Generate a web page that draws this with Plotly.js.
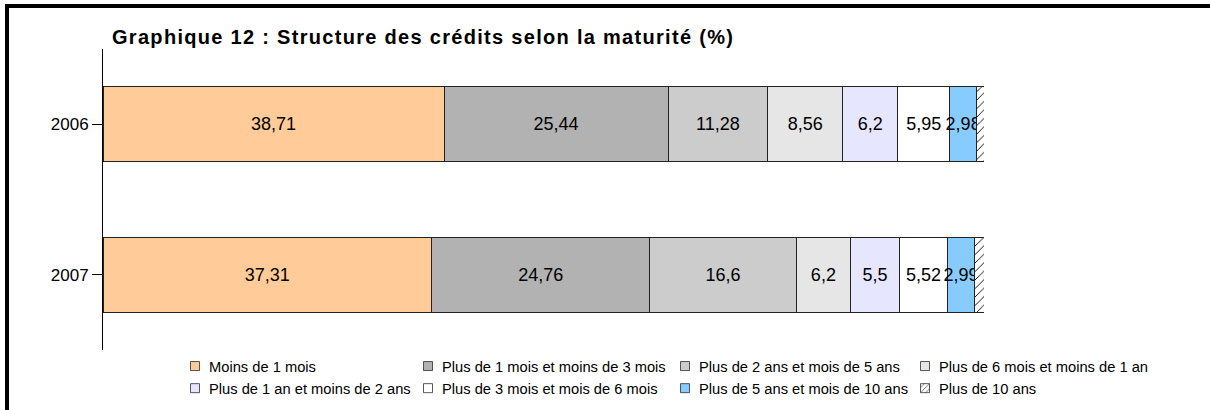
<!DOCTYPE html>
<html>
<head>
<meta charset="utf-8">
<script src="https://cdn.plot.ly/plotly-3.0.1.min.js"></script>
<style>
  html, body { margin: 0; padding: 0; background: #fff; }
  #wrap { position: relative; width: 1210px; height: 410px; }
  #chart { width: 1210px; height: 410px; }
  #bt { position: absolute; left: 5px; top: 4px; width: 1205px; height: 4px; background: #000; }
  #bl { position: absolute; left: 5px; top: 4px; width: 4px; height: 406px; background: #000; }
  .gtitle { letter-spacing: 1.3px; }
  g.legendpoints { transform: translate(11px, 0px) scale(0.75); }
</style>
</head>
<body>
<div id="wrap">
  <div id="chart"></div>
  <div id="bt"></div>
  <div id="bl"></div>
</div>
<script>
// Categories (years)
const years = ["2006", "2007"];

// Series (in stacking order)
const seriesNames = [
  "Moins de 1 mois",
  "Plus de 1 mois et moins de 3 mois",
  "Plus de 2 ans et mois de 5 ans",
  "Plus de 6 mois et moins de 1 an",
  "Plus de 1 an et moins de 2 ans",
  "Plus de 3 mois et mois de 6 mois",
  "Plus de 5 ans et mois de 10 ans",
  "Plus de 10 ans"
];

const moins1mois      = [38.71, 37.31];
const plus1a3mois     = [25.44, 24.76];
const plus2a5ans      = [11.28, 16.6];
const plus6moisa1an   = [8.56, 6.2];
const plus1a2ans      = [6.2, 5.5];
const plus3a6mois     = [5.95, 5.52];
const plus5a10ans     = [2.98, 2.99];
const plus10ans       = [0.88, 1.12];

const seriesValues = [moins1mois, plus1a3mois, plus2a5ans, plus6moisa1an,
                      plus1a2ans, plus3a6mois, plus5a10ans, plus10ans];
const showLabels = [true, true, true, true, true, true, true, false];

const colors = ["#FFCC99", "#B2B2B2", "#CCCCCC", "#E6E6E6",
                "#E6E6FF", "#FFFFFF", "#88CCFF", "#FFFFFF"];
const legendIds = ["legend", "legend2", "legend3", "legend4",
                   "legend", "legend2", "legend3", "legend4"];

const traces = seriesNames.map((name, i) => {
  const t = {
    type: "bar",
    orientation: "h",
    name: name,
    y: years,
    x: seriesValues[i],
    legend: legendIds[i],
    marker: {
      color: colors[i],
      line: { color: "#222222", width: 1 }
    },
    hoverinfo: "skip"
  };
  if (showLabels[i]) {
    t.text = seriesValues[i].map(v => String(v).replace(".", ","));
    t.textposition = "inside";
    t.insidetextanchor = "middle";
    t.textangle = 0;
    t.constraintext = "none";
    t.textfont = { family: "Liberation Sans, Arial, sans-serif", size: 18, color: "#000" };
  } else {
    t.textposition = "none";
  }
  if (i === 7) {
    t.marker.pattern = { shape: "/", fgcolor: "#000", bgcolor: "#FFFFFF", size: 6, solidity: 0.15 };
  }
  return t;
});

const legFont = { family: "Liberation Sans, Arial, sans-serif", size: 14.7, color: "#000" };
function leg(xpx) {
  return {
    x: (xpx - 103) / 881, xanchor: "left",
    y: 0.0, yanchor: "top",
    orientation: "v",
    traceorder: "normal",
    font: legFont,
    bgcolor: "rgba(0,0,0,0)",
    borderwidth: 0,
    tracegroupgap: 0
  };
}

const layout = {
  width: 1210,
  height: 410,
  margin: { l: 103, r: 226, t: 49, b: 60, pad: 0, autoexpand: false },
  paper_bgcolor: "#fff",
  plot_bgcolor: "#fff",
  barmode: "stack",
  bargap: 0.5,
  showlegend: true,
  title: {
    text: "Graphique 12 : Structure des crédits selon la maturité (%)",
    font: { family: "Liberation Sans, Arial, sans-serif", size: 20, color: "#000", weight: "bold" },
    xref: "container", yref: "container",
    x: 112 / 1210, xanchor: "left",
    y: 1 - 37 / 410, yanchor: "middle"
  },
  xaxis: {
    range: [0, 100],
    showgrid: false, zeroline: false, showline: false,
    showticklabels: false, ticks: "", fixedrange: true
  },
  yaxis: {
    type: "category",
    range: [1.5, -0.5],
    showgrid: false, zeroline: false,
    showline: true, linecolor: "#000", linewidth: 1,
    ticks: "outside", ticklen: 10, tickcolor: "#000", tickwidth: 1,
    tickfont: { family: "Liberation Sans, Arial, sans-serif", size: 17, color: "#000" },
    fixedrange: true
  },
  legend: leg(169),
  legend2: leg(402),
  legend3: leg(659),
  legend4: leg(899)
};

Plotly.newPlot("chart", traces, layout, { displayModeBar: false, staticPlot: true });
</script>
</body>
</html>
